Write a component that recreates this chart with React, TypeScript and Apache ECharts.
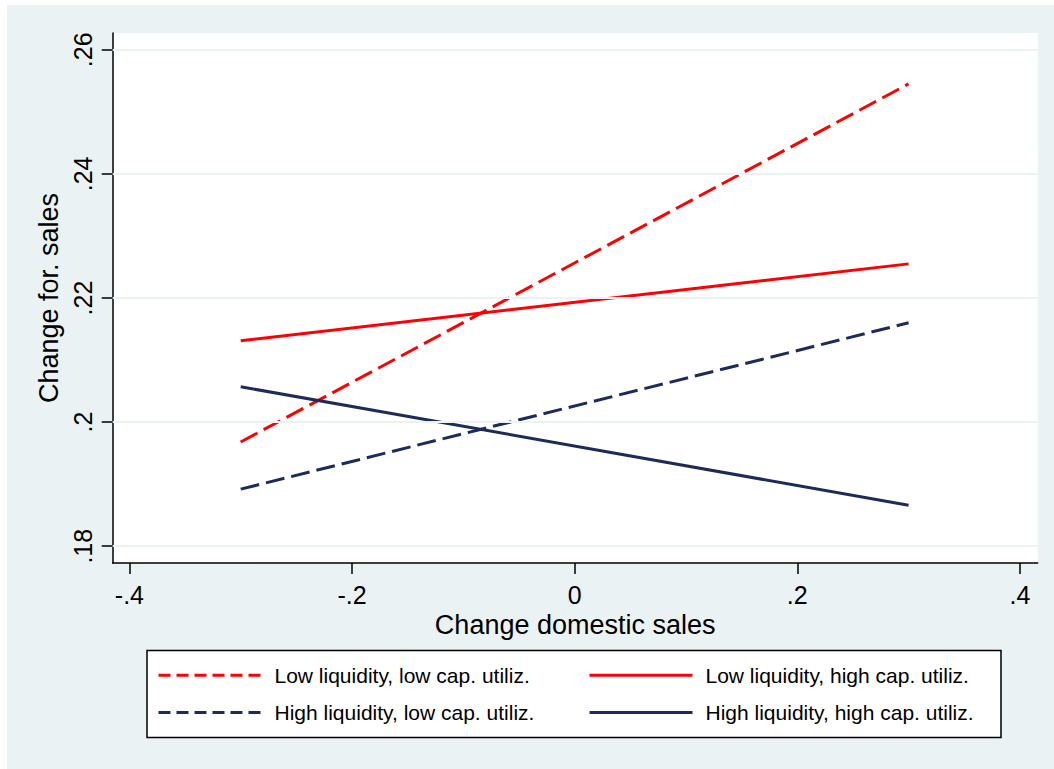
import React, { useEffect, useRef } from "react";
import * as echarts from "echarts";

const xValues = [-0.3, 0.3];
const lowLiqLowCap = [0.1968, 0.2545];
const lowLiqHighCap = [0.2131, 0.2255];
const highLiqLowCap = [0.1892, 0.216];
const highLiqHighCap = [0.2057, 0.1866];
const xTicks = [-0.4, -0.2, 0, 0.2, 0.4];
const yTicks = [0.18, 0.2, 0.22, 0.24, 0.26];
const seriesNames = [
  "Low liquidity, low cap. utiliz.",
  "Low liquidity, high cap. utiliz.",
  "High liquidity, low cap. utiliz.",
  "High liquidity, high cap. utiliz.",
];

const RED = "#ff0000";
const NAVY = "#1c2b5a";
const BG = "#eaf2f3";
const FONT = "'Liberation Sans', Arial, Helvetica, sans-serif";

const fmt = (v: number) => {
  const s = String(Number(v.toFixed(2)));
  return s.replace("0.", ".");
};

const pairs = (ys: number[]) => xValues.map((x, i) => [x, ys[i]]);

export default function App() {
  const ref = useRef<HTMLDivElement>(null);
  useEffect(() => {
    document.body.style.margin = "0";
    const chart = echarts.init(ref.current!, undefined, { renderer: "svg" });
    const legendText = { fontSize: 21, color: "#000", fontFamily: FONT, padding: [0, 0, 0, 8] };
    const mkLegend = (name: string, left: number, top: number, dashed: boolean) => ({
      data: [name],
      left,
      top,
      padding: 0,
      itemWidth: 103,
      itemHeight: 20,
      selectedMode: false,
      z: 10,
      textStyle: legendText,
      itemStyle: { opacity: 0, borderWidth: 0 },
      lineStyle: dashed ? { type: [12, 6], width: 3 } : { width: 3 },
    });
    const lineSeries = (name: string, ys: number[], color: string, dashed: boolean) => ({
      name,
      type: "line",
      data: pairs(ys),
      symbol: "none",
      showSymbol: false,
      z: 3,
      lineStyle: { color, width: 3, type: dashed ? [19, 7] : "solid" },
      itemStyle: { color },
    });
    chart.setOption({
      animation: false,
      backgroundColor: BG,
      textStyle: { fontFamily: FONT },
      graphic: [
        { type: "rect", shape: { x: 0, y: 0, width: 7, height: 769 }, style: { fill: "#fff" }, silent: true },
        { type: "rect", shape: { x: 0, y: 0, width: 1054, height: 5 }, style: { fill: "#fff" }, silent: true },
        {
          type: "rect",
          z: 0,
          shape: { x: 147, y: 650.5, width: 854, height: 87 },
          style: { fill: "#fff", stroke: "#000", lineWidth: 1.5 },
          silent: true,
        },
      ],
      grid: {
        left: 112.7,
        top: 33,
        right: 16.3,
        bottom: 206,
        show: true,
        backgroundColor: "#fff",
        borderWidth: 0,
      },
      xAxis: {
        type: "value",
        min: -0.415,
        max: 0.416,
        name: "Change domestic sales",
        nameLocation: "middle",
        nameGap: 38,
        nameTextStyle: { fontSize: 27, color: "#000", fontFamily: FONT },
        axisLine: { show: true, onZero: false, lineStyle: { color: "#000", width: 1.5 } },
        axisTick: { show: true, length: 11, lineStyle: { color: "#000", width: 1.5 }, customValues: xTicks },
        axisLabel: { fontSize: 25, color: "#000", margin: 19, customValues: xTicks, formatter: fmt },
        splitLine: { show: false },
      },
      yAxis: {
        type: "value",
        min: 0.1773,
        max: 0.2627,
        name: "Change for. sales",
        nameLocation: "middle",
        nameRotate: 90,
        nameGap: 47,
        nameTextStyle: { fontSize: 27, color: "#000", fontFamily: FONT },
        axisLine: { show: true, onZero: false, lineStyle: { color: "#000", width: 1.5 } },
        axisTick: { show: true, length: 11, lineStyle: { color: "#000", width: 1.5 }, customValues: yTicks },
        axisLabel: { fontSize: 25, color: "#000", margin: 17, rotate: 90, customValues: yTicks, formatter: fmt },
        splitLine: { show: false },
      },
      legend: [
        mkLegend(seriesNames[0], 157, 664.7, true),
        mkLegend(seriesNames[1], 588, 664.7, false),
        mkLegend(seriesNames[2], 157, 702, true),
        mkLegend(seriesNames[3], 588, 702, false),
      ],
      series: [
        {
          name: "grid",
          type: "line",
          data: [],
          z: 1,
          silent: true,
          markLine: {
            silent: true,
            symbol: ["none", "none"],
            label: { show: false },
            lineStyle: { color: BG, width: 2, type: "solid" },
            data: yTicks.map((v) => ({ yAxis: v })),
          },
        },
        lineSeries(seriesNames[0], lowLiqLowCap, RED, true),
        lineSeries(seriesNames[1], lowLiqHighCap, RED, false),
        lineSeries(seriesNames[2], highLiqLowCap, NAVY, true),
        lineSeries(seriesNames[3], highLiqHighCap, NAVY, false),
      ],
    });
    return () => chart.dispose();
  }, []);
  return <div ref={ref} style={{ width: 1054, height: 769 }} />;
}
